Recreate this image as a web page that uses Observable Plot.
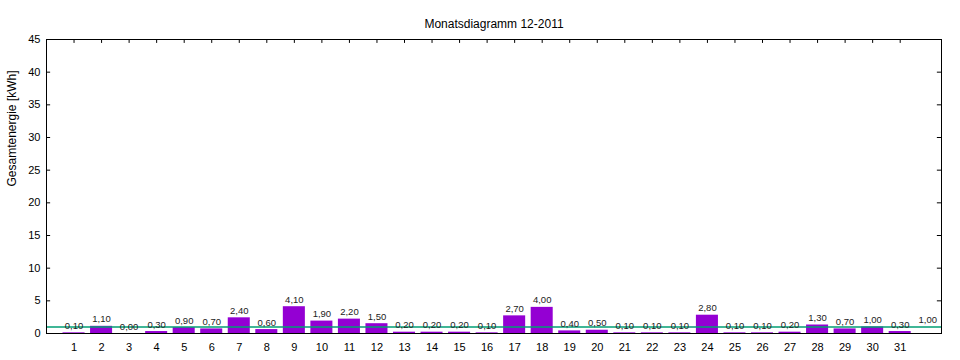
<!DOCTYPE html>
<html><head><meta charset="utf-8">
<script src="https://cdn.jsdelivr.net/npm/d3@7"></script>
<script src="https://cdn.jsdelivr.net/npm/@observablehq/plot@0.6"></script>
<style>body{margin:0;background:#fff}</style>
</head><body><div id="chart"></div>
<script>
const days = d3.range(1, 32);
const energy = [0.1,1.1,0.0,0.3,0.9,0.7,2.4,0.6,4.1,1.9,2.2,1.5,0.2,0.2,0.2,0.1,2.7,4.0,0.4,0.5,0.1,0.1,0.1,2.8,0.1,0.1,0.2,1.3,0.7,1.0,0.3];
const average = 1.00;
const yTicks = d3.range(0, 46, 5);
const title = "Monatsdiagramm 12-2011";
const yLabel = "Gesamtenergie [kWh]";

const data = days.map((d, i) => ({day: d, value: energy[i]}));
const fmt = v => v.toFixed(2).replace(".", ",");
const font = "Liberation Sans, DejaVu Sans, sans-serif";

const chart = Plot.plot({
  width: 960, height: 360,
  marginLeft: 46, marginRight: 19, marginTop: 39, marginBottom: 27,
  style: {fontFamily: font, fontSize: "11px", color: "#000", background: "#fff"},
  x: {domain: [0, 32.5], axis: null},
  y: {domain: [0, 45], axis: null},
  marks: [
    Plot.rectY(data, {x1: d => d.day - 0.4, x2: d => d.day + 0.4, y1: 0, y2: "value", fill: "#9400d3"}),
    Plot.ruleY([average], {stroke: "#009e73", strokeWidth: 1.5}),
    Plot.frame({stroke: "#000"}),
    Plot.ruleY(yTicks, {x1: 0, x2: 0.15, stroke: "#000"}),
    Plot.ruleY(yTicks, {x1: 32.35, x2: 32.5, stroke: "#000"}),
    Plot.ruleX(days, {y1: 45, y2: 44.4, stroke: "#000"}),
    Plot.text(yTicks, {x: 0, y: d => d, text: d => String(d), textAnchor: "end", dx: -6, fontSize: 11}),
    Plot.text(days, {x: d => d, y: 0, text: d => String(d), dy: 14, fontSize: 11}),
    Plot.text(data, {x: "day", y: "value", text: d => fmt(d.value), dy: -7, fontSize: 9.5, fill: "#222"}),
    Plot.text([average], {x: 32, y: d => d, text: d => fmt(d), dy: -7, fontSize: 9.5, fill: "#222"}),
    Plot.text([title], {frameAnchor: "top", dy: -20, text: d => d, fontSize: 12}),
    Plot.text([yLabel], {frameAnchor: "left", dx: -34, rotate: -90, text: d => d, fontSize: 12})
  ]
});
document.getElementById("chart").appendChild(chart);
</script>
</body></html>
